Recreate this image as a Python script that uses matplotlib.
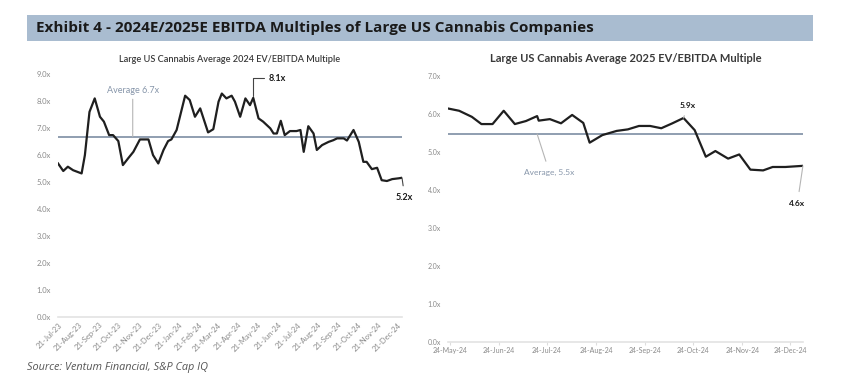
import pandas as pd
import matplotlib.pyplot as plt
import matplotlib.dates as mdates
from matplotlib.patches import Rectangle
from matplotlib.ticker import FuncFormatter

plt.rcParams['font.family'] = ['Lato', 'DejaVu Sans']

# 2024 EV/EBITDA multiple (left chart)
dates_24 = ["2023-07-21", "2023-07-29", "2023-08-05", "2023-08-13", "2023-08-26", "2023-08-31",
            "2023-09-07", "2023-09-15", "2023-09-23", "2023-09-29", "2023-10-07", "2023-10-13",
            "2023-10-21", "2023-10-28", "2023-11-05", "2023-11-13", "2023-11-23", "2023-12-06",
            "2023-12-13", "2023-12-21", "2023-12-29", "2024-01-05", "2024-01-10", "2024-01-18",
            "2024-01-31", "2024-02-07", "2024-02-15", "2024-02-23", "2024-03-06", "2024-03-14",
            "2024-03-22", "2024-03-27", "2024-04-03", "2024-04-11", "2024-04-16", "2024-04-24",
            "2024-05-02", "2024-05-09", "2024-05-14", "2024-05-22", "2024-05-29", "2024-06-09",
            "2024-06-14", "2024-06-19", "2024-06-25", "2024-07-01", "2024-07-09", "2024-07-19",
            "2024-07-25", "2024-07-30", "2024-08-06", "2024-08-14", "2024-08-19", "2024-08-27",
            "2024-09-06", "2024-09-13", "2024-09-19", "2024-09-29", "2024-10-04", "2024-10-14",
            "2024-10-22", "2024-10-29", "2024-11-03", "2024-11-11", "2024-11-19", "2024-11-26",
            "2024-12-04", "2024-12-12", "2024-12-22", "2024-12-27"]
mult_24 = [5.69, 5.41, 5.57, 5.44, 5.32, 6.00,
           7.60, 8.10, 7.42, 7.24, 6.74, 6.74,
           6.52, 5.63, 5.88, 6.12, 6.58, 6.58,
           6.00, 5.69, 6.19, 6.52, 6.58, 6.93,
           8.20, 8.04, 7.42, 7.73, 6.84, 6.96,
           7.98, 8.28, 8.10, 8.20, 7.98, 7.42,
           8.10, 7.85, 8.12, 7.36, 7.24, 6.99,
           6.80, 6.80, 7.27, 6.74, 6.89, 6.89,
           6.93, 6.12, 7.07, 6.80, 6.19, 6.37,
           6.49, 6.55, 6.62, 6.62, 6.54, 6.93,
           6.49, 5.75, 5.75, 5.48, 5.53, 5.07,
           5.04, 5.11, 5.14, 5.16]
avg_24 = 6.68
ticks_24 = pd.date_range("2023-07-01", "2024-12-01", freq="MS") + pd.Timedelta(days=20)

# 2025 EV/EBITDA multiple (right chart)
dates_25 = ["2024-05-23", "2024-05-30", "2024-06-07", "2024-06-13", "2024-06-20", "2024-06-27",
            "2024-07-04", "2024-07-11", "2024-07-18", "2024-07-19", "2024-07-26", "2024-08-02",
            "2024-08-09", "2024-08-16", "2024-08-20", "2024-08-28", "2024-09-06", "2024-09-13",
            "2024-09-20", "2024-09-27", "2024-10-04", "2024-10-11", "2024-10-18", "2024-10-25",
            "2024-11-01", "2024-11-07", "2024-11-15", "2024-11-22", "2024-11-29", "2024-12-07",
            "2024-12-13", "2024-12-21", "2025-01-01"]
mult_25 = [6.14, 6.08, 5.92, 5.73, 5.73, 6.08,
           5.73, 5.81, 5.94, 5.82, 5.86, 5.75,
           5.97, 5.76, 5.24, 5.44, 5.55, 5.59,
           5.68, 5.68, 5.62, 5.75, 5.89, 5.57,
           4.87, 5.02, 4.82, 4.93, 4.53, 4.51,
           4.60, 4.60, 4.63]
avg_25 = 5.47
ticks_25 = pd.date_range("2024-05-01", "2024-12-01", freq="MS") + pd.Timedelta(days=23)

d24 = pd.to_datetime(dates_24)
d25 = pd.to_datetime(dates_25)

line_c = "#1f1f1f"
avg_c = "#8796aa"
tick_c = "#8a8a8a"
xfmt = FuncFormatter(lambda v, p: "%.1fx" % v)

fig = plt.figure(figsize=(8.41, 3.82), dpi=100)

# header band
fig.patches.append(Rectangle((0.0321, 0.8927), 0.9346, 0.068, transform=fig.transFigure,
                             facecolor="#a9bcd0", edgecolor="none"))
fig.text(0.043, 0.927, "Exhibit 4 - 2024E/2025E EBITDA Multiples of Large US Cannabis Companies",
         fontsize=11, fontweight="bold", color="#1a1a1a", va="center", family=["Open Sans", "DejaVu Sans"])
fig.text(0.032, 0.037, "Source: Ventum Financial, S&P Cap IQ", fontsize=7.8, style="italic",
         color="#555555", va="center", family=["Open Sans", "DejaVu Sans"])

# left chart
ax1 = fig.add_axes([0.069, 0.170, 0.409, 0.636])
ax1.plot(d24, mult_24, color=line_c, lw=1.6, zorder=3)
ax1.axhline(avg_24, color=avg_c, lw=1.3, zorder=2)
ax1.set_ylim(0, 9)
ax1.set_xlim(d24[0], d24[-1])
ax1.set_yticks(range(10))
ax1.yaxis.set_major_formatter(xfmt)
ax1.set_xticks(ticks_24)
ax1.xaxis.set_major_formatter(mdates.DateFormatter("%d-%b-%y"))
plt.setp(ax1.get_xticklabels(), rotation=45, ha="right", rotation_mode="anchor")
ax1.tick_params(axis="both", labelsize=5.5, colors=tick_c, length=0, pad=5)
ax1.tick_params(axis="x", pad=3)
ax1.set_title("Large US Cannabis Average 2024 EV/EBITDA Multiple", fontsize=6.6,
              color="#3a3a3a", fontweight="semibold", pad=9)

ax1.annotate("Average 6.7x", xy=(pd.Timestamp("2023-11-12"), avg_24), xytext=(0, 30),
             textcoords="offset points", ha="center", va="bottom", fontsize=6.5, color=avg_c,
             arrowprops=dict(arrowstyle="-", color="#b5b5b5", lw=0.8, shrinkA=1, shrinkB=0))
i_pk = dates_24.index("2024-05-14")
ax1.annotate("8.1x", xy=(d24[i_pk], mult_24[i_pk]), xytext=(11, 14), textcoords="offset points",
             ha="left", va="center", fontsize=6.5, fontweight="bold", color="#1a1a1a",
             arrowprops=dict(arrowstyle="-", color="#444444", lw=0.8, shrinkA=1, shrinkB=1,
                             connectionstyle="angle,angleA=0,angleB=90,rad=0"))
ax1.annotate("5.2x", xy=(d24[-1], mult_24[-1]), xytext=(2, -14), textcoords="offset points",
             ha="center", va="center", fontsize=6.5, fontweight="bold", color="#1a1a1a",
             arrowprops=dict(arrowstyle="-", color="#444444", lw=0.8, shrinkA=3, shrinkB=0))

# right chart
ax2 = fig.add_axes([0.5327, 0.1055, 0.422, 0.696])
ax2.plot(d25, mult_25, color=line_c, lw=1.6, zorder=3)
ax2.axhline(avg_25, color=avg_c, lw=1.3, zorder=2)
ax2.set_ylim(0, 7)
ax2.set_xlim(d25[0], d25[-1])
ax2.set_yticks(range(8))
ax2.yaxis.set_major_formatter(xfmt)
ax2.set_xticks(ticks_25)
ax2.xaxis.set_major_formatter(mdates.DateFormatter("%d-%b-%y"))
ax2.tick_params(axis="both", labelsize=5, colors=tick_c, length=0, pad=5)
ax2.tick_params(axis="x", length=2, color="#dddddd", pad=2)
ax2.set_title("Large US Cannabis Average 2025 EV/EBITDA Multiple", fontsize=8,
              color="#3a3a3a", fontweight="bold", pad=10)

ax2.annotate("Average, 5.5x", xy=(pd.Timestamp("2024-07-18"), avg_25), xytext=(9, -28),
             textcoords="offset points", ha="center", va="center", fontsize=6, color=avg_c,
             arrowprops=dict(arrowstyle="-", color="#b5b5b5", lw=0.8, shrinkA=4, shrinkB=0))
i_pk2 = dates_25.index("2024-10-18")
ax2.annotate("5.9x", xy=(d25[i_pk2], mult_25[i_pk2]), xytext=(3, 9), textcoords="offset points",
             ha="center", va="center", fontsize=6, fontweight="bold", color="#1a1a1a",
             arrowprops=dict(arrowstyle="-", color="#b5b5b5", lw=0.8, shrinkA=3, shrinkB=0))
ax2.annotate("4.6x", xy=(d25[-1], mult_25[-1]), xytext=(-4, -27), textcoords="offset points",
             ha="center", va="center", fontsize=6, fontweight="bold", color="#1a1a1a",
             arrowprops=dict(arrowstyle="-", color="#b5b5b5", lw=0.8, shrinkA=4, shrinkB=0))

for ax in (ax1, ax2):
    for s in ("top", "right", "left"):
        ax.spines[s].set_visible(False)
    ax.spines["bottom"].set_color("#e3e3e3")
    ax.spines["bottom"].set_linewidth(1.2)

fig.savefig("out.png", dpi=100)
